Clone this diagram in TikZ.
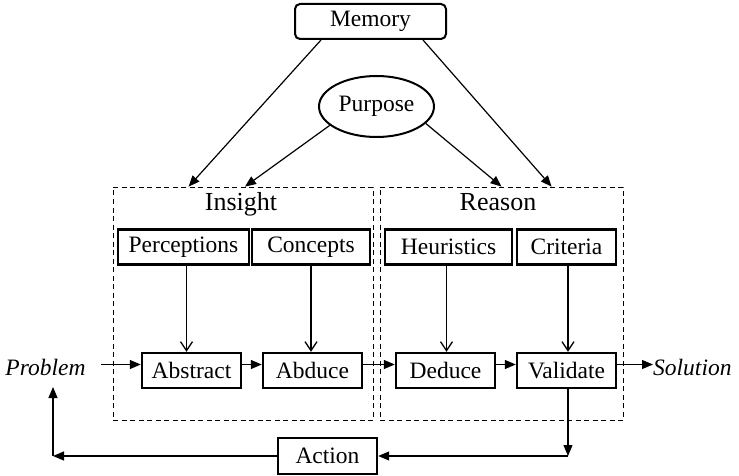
\documentclass[tikz,border=0pt]{standalone}
\usepackage{fontspec}
\setmainfont{Liberation Serif}
\usetikzlibrary{arrows.meta,shapes.geometric}
\begin{document}
\begin{tikzpicture}[x=1pt,y=-1pt,
  txt/.style={font=\fontsize{23.5}{26}\selectfont},
  box/.style={draw, line width=2.4pt, inner sep=0pt, minimum height=35pt, txt},
  grp/.style={draw, dash pattern=on 5pt off 3.5pt, line width=0.8pt, inner sep=0pt},
  conn/.style={line width=1.2pt, -{Triangle[length=11pt,width=9pt]}},
  vconn/.style={line width=1.1pt, -{Straight Barb[length=9pt,width=12pt,line width=1.3pt]}},
  lab/.style={font=\fontsize{26}{30}\selectfont, inner sep=0pt, anchor=base},
  ital/.style={font=\fontsize{23.5}{26}\selectfont\itshape, inner sep=0pt},
  ]
\useasboundingbox (0,0) rectangle (739,476);

% groups
\node[grp, minimum width=260pt, minimum height=233pt] (insightbox) at (243,303.5) {};
\node[grp, minimum width=243pt, minimum height=233pt] (reasonbox) at (501.5,303.5) {};
\node[lab] (insightlab) at (241,210) {Insight};
\node[lab] (reasonlab) at (498,210) {Reason};

% top
\node[draw, rounded corners=5pt, line width=2pt, inner sep=0pt, minimum width=151pt, minimum height=35pt, txt] (memory) at (370.5,21.5) {Memory};
\node[ellipse, draw, line width=2pt, inner sep=0pt, minimum width=115pt, minimum height=61pt, txt] (purpose) at (376.5,106.5) {Purpose};

% inner top row
\node[box, minimum width=131pt] (perceptions) at (183.5,247) {Perceptions};
\node[box, minimum width=118pt] (concepts) at (311,247) {Concepts};
\node[box, minimum width=127pt] (heuristics) at (448.5,247) {Heuristics};
\node[box, minimum width=99pt] (criteria) at (566.5,247) {Criteria};

% process row
\node[box, minimum width=99pt] (abstract) at (191.5,370.5) {Abstract};
\node[box, minimum width=99pt] (abduce) at (312.5,370.5) {Abduce};
\node[box, minimum width=99pt] (deduce) at (445.5,370.5) {Deduce};
\node[box, minimum width=99pt] (validate) at (566.5,370.5) {Validate};
\node[box, minimum width=99pt, minimum height=36pt] (action) at (327.5,456) {Action};

\node[ital, anchor=base] (problem) at (45.5,375) {Problem};
\node[ital, anchor=base west] (solution) at (653,375) {Solution};

% diagonal arrows
\draw[conn] ([xshift=27pt]memory.south west) -- ([xshift=76pt]insightbox.north west);
\draw[conn] ([xshift=-24pt]memory.south east) -- ([xshift=172pt]reasonbox.north west);
\draw[conn] (purpose.202) -- ([xshift=2pt]insightbox.north);
\draw[conn] (purpose.341) -- (reasonbox.north);

% vertical inputs
\draw[vconn] ([xshift=3pt]perceptions.south) -- ([xshift=3pt]perceptions.south |- abstract.north);
\draw[vconn] (concepts.south) -- (concepts.south |- abduce.north);
\draw[vconn] ([xshift=-2pt]heuristics.south) -- ([xshift=-2pt]heuristics.south |- deduce.north);
\draw[vconn] ([xshift=1.5pt]criteria.south) -- ([xshift=1.5pt]criteria.south |- validate.north);

% main flow
\coordinate (pin) at (101,364.5);
\draw[conn] (pin) -- ([yshift=6pt]abstract.west);
\draw[conn] ([yshift=6pt]abstract.east) -- ([yshift=6pt]abduce.west);
\draw[conn] ([yshift=6pt]abduce.east) -- ([yshift=6pt]deduce.west);
\draw[conn] ([yshift=6pt]deduce.east) -- ([yshift=6pt]validate.east -| validate.west);
\draw[conn] ([yshift=6pt]validate.east) -- ([yshift=6pt]validate.east -| solution.west);

% feedback
\coordinate (fb1) at (568,456);
\coordinate (fb2) at (53,456);
\coordinate (fb3) at (53,387);
\draw[conn] ([xshift=1.5pt]validate.south) -- (fb1);
\draw[conn] (fb1) -- (action.east);
\draw[conn] (action.west) -- (fb2);
\draw[conn] (fb2) -- (fb3);
\end{tikzpicture}
\end{document}
